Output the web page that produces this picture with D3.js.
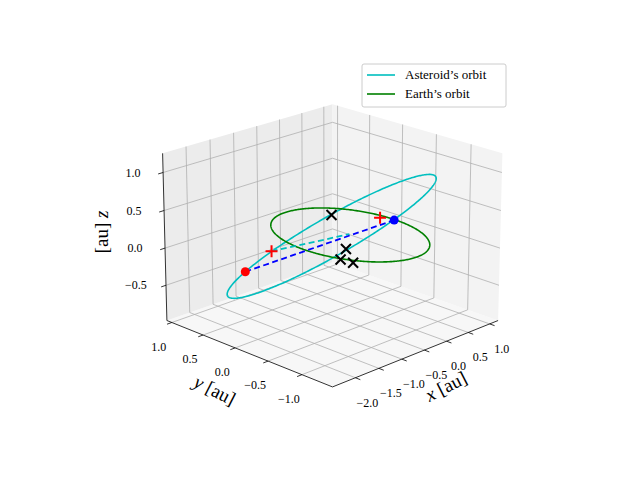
<!DOCTYPE html>
<html><head><meta charset="utf-8">
<script src="https://cdn.jsdelivr.net/npm/d3@7"></script>
<style>body{margin:0;background:#fff}svg{display:block}text{font-family:"Liberation Serif","DejaVu Serif",serif}</style>
</head><body>
<script>
// ---- data ----
const xLim = [-2.48, 1.2], yLim = [-1.44, 1.08], zLim = [-0.98, 1.25];
const xTicks = [-2.0, -1.5, -1.0, -0.5, 0.0, 0.5, 1.0];
const yTicks = [-1.0, -0.5, 0.0, 0.5, 1.0];
const zTicks = [-0.5, 0.0, 0.5, 1.0];
const earthRadius = 1.0;
const asteroidCenter = [-0.71, -0.227, 0.2];
const asteroidSemiMajor = [1.60, -0.463, 0.6];
const asteroidSemiMinor = [-0.686, -0.607, 0.1];
const redDots = [[-1.64, 0.45, -0.3]];
const blueDots = [[-0.286, -0.85, 0.5]];
const redPlus = [[-1.408, 0.208, 0], [0.903, 0.135, 0]];
const blackX = [[0.443, 0.577, 0], [-0.52, -0.30, 0], [-0.912, -0.486, 0], [-0.875, -0.646, 0]];
const blueDashed = [[-1.64, 0.45, -0.3], [-0.286, -0.85, 0.5]];
const cyanDashed = [[-1.408, 0.208, 0], [0, 0, 0]];
const legendLabels = ["Asteroid\u2019s orbit", "Earth\u2019s orbit"];

// ---- projection ----
const W = 640, H = 480;
const xs = d3.scaleLinear().domain(xLim).range([-1, 1]);
const ys = d3.scaleLinear().domain(yLim).range([-1, 1]);
const zs = d3.scaleLinear().domain(zLim).range([-0.75, 0.75]);
const elev = 20 * Math.PI / 180, azim = -135 * Math.PI / 180;
const eye = [Math.cos(elev) * Math.cos(azim), Math.cos(elev) * Math.sin(azim), Math.sin(elev)];
const uV = [-Math.sin(azim), Math.cos(azim), 0];
const vV = [-Math.sin(elev) * Math.cos(azim), -Math.sin(elev) * Math.sin(azim), Math.cos(elev)];
const D = 20, S = 118.6, CX = 332.5, CY = 238;
function proj(p) {
  const X = xs(p[0]), Y = ys(p[1]), Z = zs(p[2]);
  const w = X * eye[0] + Y * eye[1] + Z * eye[2];
  const f = D / (D - w);
  const u = X * uV[0] + Y * uV[1];
  const v = X * vV[0] + Y * vV[1] + Z * vV[2];
  return [CX + S * f * u, CY - S * f * v];
}
const line = d3.line().x(d => proj(d)[0]).y(d => proj(d)[1]);

const svg = d3.select("body").append("svg").attr("width", W).attr("height", H);
const [x0, x1] = xLim, [y0, y1] = yLim, [z0, z1] = zLim;
// panes
const panes = [
  {pts: [[x0, y0, z0], [x1, y0, z0], [x1, y1, z0], [x0, y1, z0]], fill: "#f7f7f7"},
  {pts: [[x0, y1, z0], [x1, y1, z0], [x1, y1, z1], [x0, y1, z1]], fill: "#ececec"},
  {pts: [[x1, y0, z0], [x1, y1, z0], [x1, y1, z1], [x1, y0, z1]], fill: "#f3f3f3"}
];
panes.forEach(p => svg.append("path").attr("d", line(p.pts) + "Z").attr("fill", p.fill).attr("stroke", "none"));
const grid = svg.append("g").attr("stroke", "#b0b0b0").attr("stroke-width", 0.8).attr("fill", "none");
xTicks.forEach(t => {
  grid.append("path").attr("d", line([[t, y0, z0], [t, y1, z0], [t, y1, z1]]));
});
yTicks.forEach(t => {
  grid.append("path").attr("d", line([[x0, t, z0], [x1, t, z0], [x1, t, z1]]));
});
zTicks.forEach(t => {
  grid.append("path").attr("d", line([[x0, y1, t], [x1, y1, t], [x1, y0, t]]));
});
// axis lines
const ax = svg.append("g").attr("stroke", "#000").attr("stroke-width", 0.8).attr("fill", "none");
ax.append("path").attr("d", line([[x0, y0, z0], [x1, y0, z0]]));
ax.append("path").attr("d", line([[x0, y0, z0], [x0, y1, z0]]));
ax.append("path").attr("d", line([[x0, y1, z0], [x0, y1, z1]]));
const fmt = d3.format(".1f");
const lab = svg.append("g").attr("font-size", 12).attr("text-anchor", "middle").attr("fill", "#000");
const minus = s => s.replace("-", "\u2212");
xTicks.forEach(t => {
  const a = proj([t, y0, z0]), b = proj([t, y0 - 0.07, z0]);
  ax.append("line").attr("x1", a[0]).attr("y1", a[1]).attr("x2", b[0]).attr("y2", b[1]);
  lab.append("text").attr("x", a[0] + 12).attr("y", a[1] + 29).text(minus(fmt(t)));
});
yTicks.forEach(t => {
  const a = proj([x0, t, z0]), b = proj([x0 - 0.1, t, z0]);
  ax.append("line").attr("x1", a[0]).attr("y1", a[1]).attr("x2", b[0]).attr("y2", b[1]);
  lab.append("text").attr("x", a[0] - 13).attr("y", a[1] + 28).text(minus(fmt(t)));
});
zTicks.forEach(t => {
  const a = proj([x0, y1, t]), b = proj([x0 - 0.1, y1, t]);
  ax.append("line").attr("x1", a[0]).attr("y1", a[1]).attr("x2", b[0]).attr("y2", b[1]);
  lab.append("text").attr("x", a[0] - 30).attr("y", a[1] + 4).text(minus(fmt(t)));
});
function axLabel(x, y, rot, v) {
  const t = svg.append("text").attr("transform", `translate(${x},${y}) rotate(${rot})`)
    .attr("text-anchor", "middle").attr("font-size", 19);
  t.append("tspan").attr("font-style", "italic").text(v);
  t.append("tspan").text(" [au]");
}
axLabel(449, 392, -27, "x");
axLabel(212, 396, 27, "y");
svg.append("text").attr("transform", "translate(108,232) rotate(-90)").attr("text-anchor", "middle")
  .attr("font-size", 19).call(t => { t.append("tspan").text("[au] "); t.append("tspan").attr("font-style", "italic").text("z"); });

// orbits
const T = d3.range(0, 2 * Math.PI + 0.001, Math.PI / 180);
const earthPts = T.map(t => [earthRadius * Math.cos(t), earthRadius * Math.sin(t), 0]);
const astPts = T.map(t => [0, 1, 2].map(i => asteroidCenter[i] + asteroidSemiMajor[i] * Math.cos(t) + asteroidSemiMinor[i] * Math.sin(t)));
svg.append("path").attr("d", line(astPts)).attr("fill", "none").attr("stroke", "#00bfbf").attr("stroke-width", 1.6);
svg.append("path").attr("d", line(earthPts)).attr("fill", "none").attr("stroke", "#008000").attr("stroke-width", 1.6);
svg.append("path").attr("d", line(cyanDashed)).attr("fill", "none").attr("stroke", "#00bfbf").attr("stroke-width", 1.8).attr("stroke-dasharray", "6,3.5");
svg.append("path").attr("d", line(blueDashed)).attr("fill", "none").attr("stroke", "#0000ff").attr("stroke-width", 1.8).attr("stroke-dasharray", "6,3.5");
redDots.forEach(p => { const q = proj(p); svg.append("circle").attr("cx", q[0]).attr("cy", q[1]).attr("r", 4.5).attr("fill", "#ff0000"); });
blueDots.forEach(p => { const q = proj(p); svg.append("circle").attr("cx", q[0]).attr("cy", q[1]).attr("r", 4.5).attr("fill", "#0000ff"); });
redPlus.forEach(p => { const q = proj(p);
  svg.append("path").attr("d", `M${q[0] - 6},${q[1]}h12M${q[0]},${q[1] - 6}v12`).attr("stroke", "#ff0000").attr("stroke-width", 2); });
blackX.forEach(p => { const q = proj(p);
  svg.append("path").attr("d", `M${q[0] - 5},${q[1] - 5}l10,10M${q[0] - 5},${q[1] + 5}l10,-10`).attr("stroke", "#000").attr("stroke-width", 2); });

// legend
const lg = svg.append("g").attr("transform", "translate(362,64)");
lg.append("rect").attr("width", 144).attr("height", 43).attr("rx", 2).attr("fill", "#fff").attr("fill-opacity", 0.8).attr("stroke", "#cccccc");
[["#00bfbf", 0], ["#008000", 1]].forEach(([c, i]) => {
  lg.append("line").attr("x1", 5).attr("x2", 33).attr("y1", 11 + 19 * i).attr("y2", 11 + 19 * i).attr("stroke", c).attr("stroke-width", 1.6);
  lg.append("text").attr("x", 43).attr("y", 15 + 19 * i).attr("font-size", 13).text(legendLabels[i]);
});
</script>
</body></html>
